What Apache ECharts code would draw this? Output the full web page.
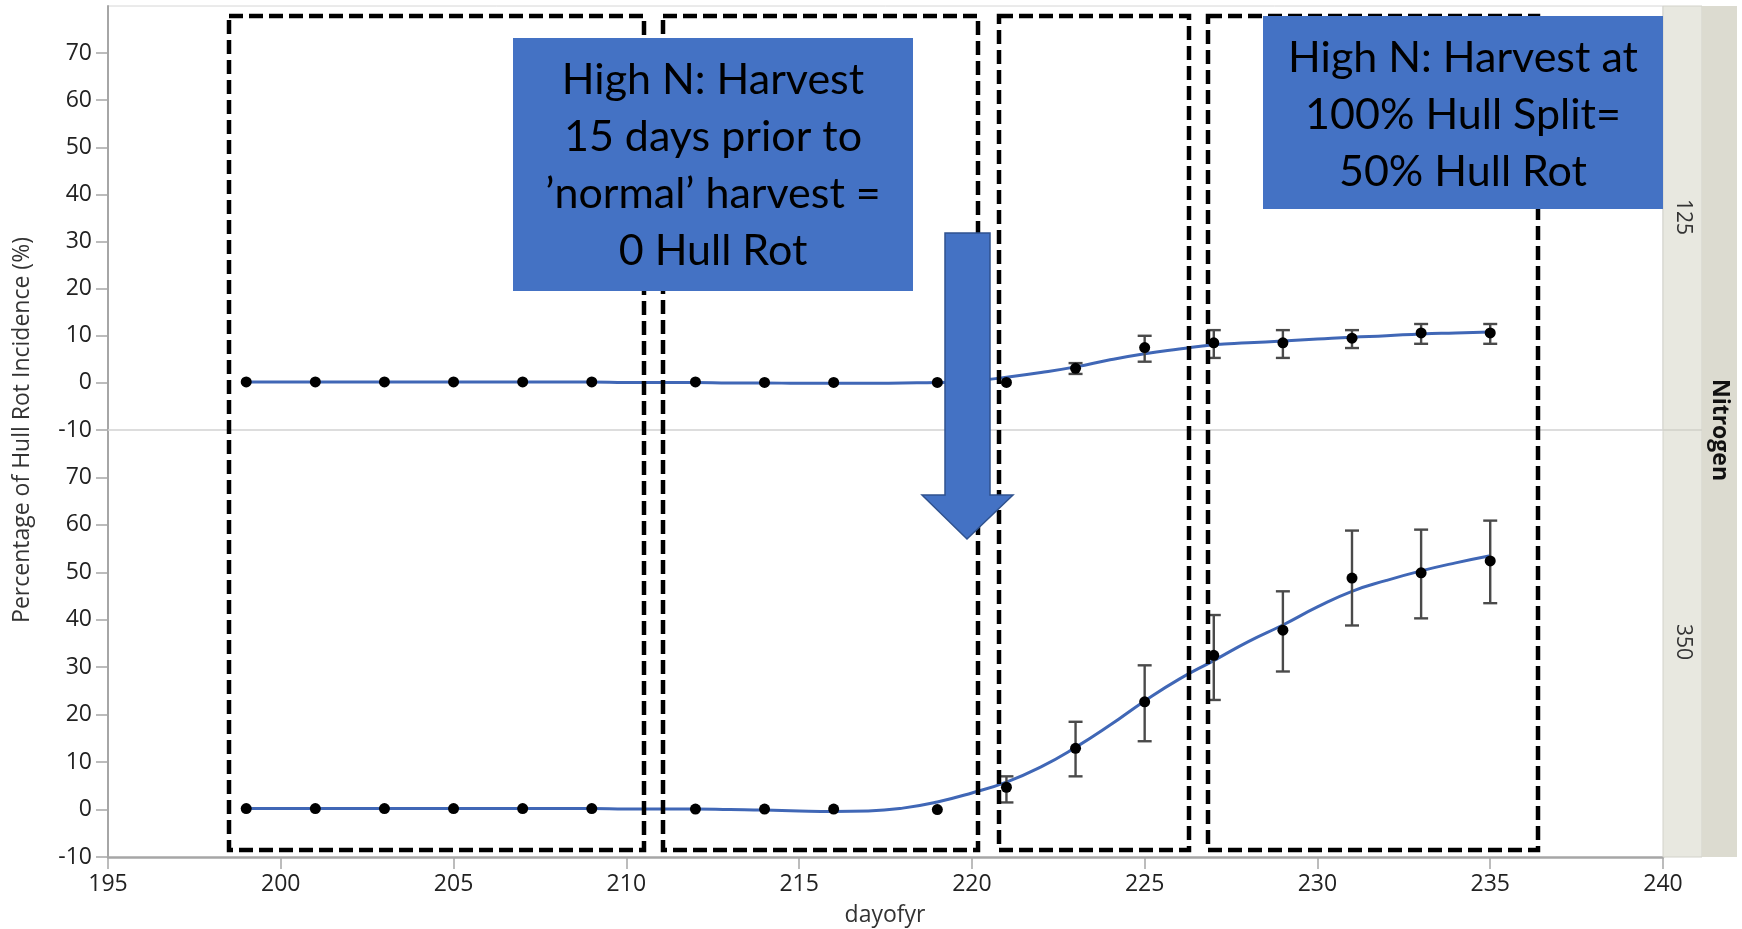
<!DOCTYPE html>
<html>
<head>
<meta charset="utf-8">
<script src="https://cdn.jsdelivr.net/npm/echarts@6/dist/echarts.min.js"></script>
<style>
  html, body { margin: 0; padding: 0; background: #fff; }
  #main { width: 1742px; height: 929px; }
</style>
</head>
<body>
<div id="main"></div>
<script>
// sampled days (observations)
var days = [199, 201, 203, 205, 207, 209, 212, 214, 216, 219, 221, 223, 225, 227, 229, 231, 233, 235];

// Nitrogen 125 - mean and error bar ends (null = no bar drawn)
var n125Mean = [0.2, 0.2, 0.2, 0.2, 0.2, 0.2, 0.2, 0.1, 0.1, 0.1, 0.1, 3.1, 7.5, 8.5, 8.5, 9.5, 10.6, 10.6];
var n125Lo = [null, null, null, null, null, null, null, null, null, null, null, 1.9, 4.5, 5.3, 5.3, 7.4, 8.3, 8.3];
var n125Hi = [null, null, null, null, null, null, null, null, null, null, null, 4.2, 10.0, 11.2, 11.2, 11.2, 12.5, 12.5];

// Nitrogen 350
var n350Mean = [0.2, 0.2, 0.2, 0.2, 0.2, 0.2, 0.1, 0.1, 0.1, 0.0, 4.7, 12.9, 22.7, 32.5, 37.8, 48.8, 49.9, 52.4];
var n350Lo = [null, null, null, null, null, null, null, null, null, null, 1.5, 7.0, 14.4, 23.1, 29.1, 38.8, 40.3, 43.5];
var n350Hi = [null, null, null, null, null, null, null, null, null, null, 7.0, 18.5, 30.4, 41.0, 46.0, 58.8, 59.0, 60.9];

// fitted curves
var curveDays = [199, 200, 201, 202, 203, 204, 205, 206, 207, 208, 209, 210, 211, 212, 213, 214, 215, 216, 217,
                 218, 219, 220, 221, 222, 223, 224, 225, 226, 227, 228, 229, 230, 231, 232, 233, 234, 235];
var n125Fit = [0.2, 0.2, 0.2, 0.2, 0.2, 0.2, 0.2, 0.2, 0.2, 0.2, 0.2, 0.1, 0.1, 0.1, 0.0, 0.0, -0.1, -0.1, -0.1,
               0.0, 0.1, 0.4, 1.2, 2.2, 3.4, 4.9, 6.2, 7.2, 8.1, 8.5, 8.9, 9.3, 9.7, 10.0, 10.4, 10.6, 10.8];
var n350Fit = [0.2, 0.2, 0.2, 0.2, 0.2, 0.2, 0.2, 0.2, 0.2, 0.2, 0.2, 0.1, 0.1, 0.1, 0.0, -0.1, -0.3, -0.4, -0.3,
               0.3, 1.6, 3.5, 5.8, 9.0, 13.1, 17.8, 22.9, 27.5, 31.4, 35.4, 38.9, 42.7, 46.0, 48.3, 50.3, 52.0, 53.5];

var xTicks = { min: 195, max: 240, interval: 5 };
var yTicks = { min: -10, max: 80, interval: 10 };

function pairs(xs, ys) {
  return xs.map(function (x, i) { return [x, ys[i]]; });
}
function bars(xs, lo, hi) {
  var out = [];
  xs.forEach(function (x, i) {
    if (lo[i] != null) out.push([x, lo[i], hi[i]]);
  });
  return out;
}

function errorBar(params, api) {
  var top = api.coord([api.value(0), api.value(2)]);
  var bot = api.coord([api.value(0), api.value(1)]);
  var w = 7;
  var st = { stroke: '#4a4a4a', lineWidth: 2.4 };
  return {
    type: 'group',
    children: [
      { type: 'line', shape: { x1: top[0], y1: top[1], x2: bot[0], y2: bot[1] }, style: st },
      { type: 'line', shape: { x1: top[0] - w, y1: top[1], x2: top[0] + w, y2: top[1] }, style: st },
      { type: 'line', shape: { x1: bot[0] - w, y1: bot[1], x2: bot[0] + w, y2: bot[1] }, style: st }
    ]
  };
}

var tickFont = { fontFamily: 'Open Sans', fontSize: 23, color: '#222' };
var axisGray = '#a6a6a6';

function yAxisCfg(idx) {
  return {
    type: 'value', gridIndex: idx,
    min: yTicks.min, max: yTicks.max, interval: yTicks.interval,
    axisLine: { show: true, onZero: false, lineStyle: { color: axisGray, width: 2 } },
    axisTick: { show: true, length: 12, lineStyle: { color: axisGray, width: 1.5 } },
    axisLabel: Object.assign({ showMaxLabel: false, margin: 16 }, tickFont),
    splitLine: { show: false }
  };
}

var chart = echarts.init(document.getElementById('main'));

var boxFont = '43px Lato';
var dashStyle = { fill: null, stroke: '#000', lineWidth: 4.5, lineDash: [14, 6] };
var labelFont = '23px "Open Sans"';

var option = {
  animation: false,
  backgroundColor: '#fff',
  grid: [
    { left: 108, top: 6, width: 1555, height: 424, show: true, borderColor: '#d6d6d6', borderWidth: 1 },
    { left: 108, top: 430, width: 1555, height: 427 }
  ],
  xAxis: [
    {
      type: 'value', gridIndex: 0, min: xTicks.min, max: xTicks.max, interval: xTicks.interval,
      axisLine: { show: true, onZero: false, lineStyle: { color: '#d9d9d9', width: 1.5 } },
      axisTick: { show: false }, axisLabel: { show: false }, splitLine: { show: false }
    },
    {
      type: 'value', gridIndex: 1, min: xTicks.min, max: xTicks.max, interval: xTicks.interval,
      axisLine: { show: true, onZero: false, lineStyle: { color: axisGray, width: 2.5 } },
      axisTick: { show: true, length: 12, lineStyle: { color: axisGray, width: 1.5 } },
      axisLabel: Object.assign({ margin: 16 }, tickFont),
      splitLine: { show: false }
    }
  ],
  yAxis: [yAxisCfg(0), yAxisCfg(1)],
  series: [
    {
      type: 'line', xAxisIndex: 0, yAxisIndex: 0, data: pairs(curveDays, n125Fit),
      smooth: true, showSymbol: false, lineStyle: { color: '#4067b6', width: 3 }, z: 2
    },
    {
      type: 'line', xAxisIndex: 1, yAxisIndex: 1, data: pairs(curveDays, n350Fit),
      smooth: true, showSymbol: false, lineStyle: { color: '#4067b6', width: 3 }, z: 2
    },
    { type: 'custom', xAxisIndex: 0, yAxisIndex: 0, renderItem: errorBar, data: bars(days, n125Lo, n125Hi), z: 3 },
    { type: 'custom', xAxisIndex: 1, yAxisIndex: 1, renderItem: errorBar, data: bars(days, n350Lo, n350Hi), z: 3 },
    {
      type: 'scatter', xAxisIndex: 0, yAxisIndex: 0, data: pairs(days, n125Mean),
      symbolSize: 11, itemStyle: { color: '#000', opacity: 1 }, z: 4
    },
    {
      type: 'scatter', xAxisIndex: 1, yAxisIndex: 1, data: pairs(days, n350Mean),
      symbolSize: 11, itemStyle: { color: '#000', opacity: 1 }, z: 4
    }
  ],
  graphic: [
    // side strip for the Nitrogen facets
    { type: 'rect', z: 1, shape: { x: 1663, y: 6, width: 39, height: 851 }, style: { fill: '#e8e8e0', stroke: '#d2d2ca', lineWidth: 1 } },
    { type: 'rect', z: 1, shape: { x: 1702, y: 6, width: 35, height: 851 }, style: { fill: '#dcdbd0' } },
    { type: 'line', z: 2, shape: { x1: 1663, y1: 430, x2: 1702, y2: 430 }, style: { stroke: '#d0d0c8', lineWidth: 1.5 } },
    { type: 'text', z: 3, x: 1683, y: 217, rotation: -Math.PI / 2,
      style: { text: '125', font: '21px "Open Sans"', fill: '#333', align: 'center', verticalAlign: 'middle' } },
    { type: 'text', z: 3, x: 1683, y: 642, rotation: -Math.PI / 2,
      style: { text: '350', font: '21px "Open Sans"', fill: '#333', align: 'center', verticalAlign: 'middle' } },
    { type: 'text', z: 3, x: 1720, y: 430, rotation: -Math.PI / 2,
      style: { text: 'Nitrogen', font: 'bold 23px "Open Sans"', fill: '#111', align: 'center', verticalAlign: 'middle' } },

    // axis titles
    { type: 'text', z: 3, x: 22, y: 430, rotation: Math.PI / 2,
      style: { text: 'Percentage of Hull Rot Incidence (%)', font: labelFont, fill: '#333', align: 'center', verticalAlign: 'middle' } },
    { type: 'text', z: 3, x: 885, y: 915,
      style: { text: 'dayofyr', font: labelFont, fill: '#333', align: 'center', verticalAlign: 'middle' } },

    // dashed harvest windows
    { type: 'rect', z: 50, shape: { x: 229, y: 16, width: 415, height: 834 }, style: dashStyle },
    { type: 'rect', z: 50, shape: { x: 663, y: 16, width: 315, height: 834 }, style: dashStyle },
    { type: 'rect', z: 50, shape: { x: 999, y: 16, width: 190, height: 834 }, style: dashStyle },
    { type: 'rect', z: 50, shape: { x: 1208, y: 16, width: 330, height: 834 }, style: dashStyle },

    // callouts
    { type: 'rect', z: 60, shape: { x: 513, y: 38, width: 400, height: 253 }, style: { fill: '#4472C4' } },
    { type: 'text', z: 61, x: 713, y: 166,
      style: { text: 'High N: Harvest\n15 days prior to\n\u2019normal\u2019 harvest =\n0 Hull Rot',
               font: boxFont, lineHeight: 57, fill: '#000', align: 'center', verticalAlign: 'middle' } },
    { type: 'rect', z: 60, shape: { x: 1263, y: 16, width: 400, height: 193 }, style: { fill: '#4472C4' } },
    { type: 'text', z: 61, x: 1463, y: 115,
      style: { text: 'High N: Harvest at\n100% Hull Split=\n50% Hull Rot',
               font: boxFont, lineHeight: 57, fill: '#000', align: 'center', verticalAlign: 'middle' } },
    { type: 'polygon', z: 60,
      shape: { points: [[945, 233], [990, 233], [990, 495], [1013, 495], [967, 539], [922, 495], [945, 495]] },
      style: { fill: '#4472C4', stroke: '#2F528F', lineWidth: 1.5 } }
  ]
};

chart.setOption(option);
</script>
</body>
</html>
